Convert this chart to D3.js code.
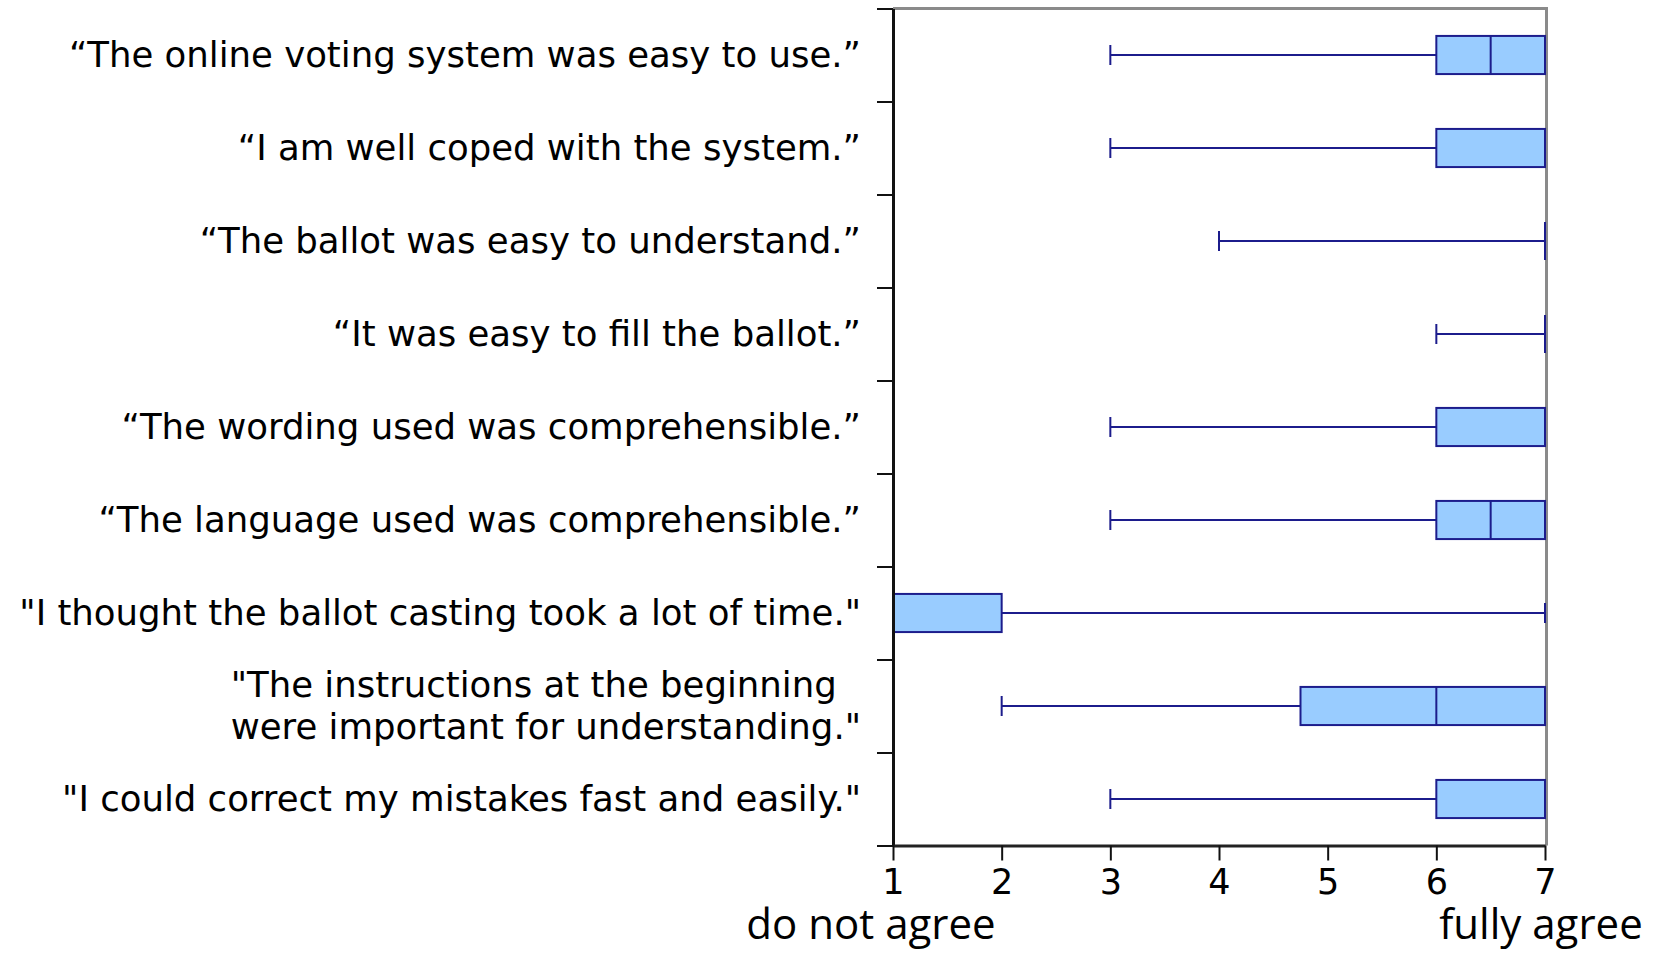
<!DOCTYPE html>
<html>
<head>
<meta charset="utf-8">
<script src="https://cdn.jsdelivr.net/npm/d3@7"></script>
<style>
  html, body { margin: 0; padding: 0; background: #fff; }
  svg { display: block; }
</style>
</head>
<body>
<svg id="chart" width="1657" height="953"></svg>
<script>
// ---- data ----
const categories = [
  "“The online voting system was easy to use.”",
  "“I am well coped with the system.”",
  "“The ballot was easy to understand.”",
  "“It was easy to fill the ballot.”",
  "“The wording used was comprehensible.”",
  "“The language used was comprehensible.”",
  "\"I thought the ballot casting took a lot of time.\"",
  "\"The instructions at the beginning\nwere important for understanding.\"",
  "\"I could correct my mistakes fast and easily.\""
];
const mins    = [3, 3, 4, 6, 3, 3, 1, 2,    3];
const q1s     = [6, 6, 7, 7, 6, 6, 1, 4.75, 6];
const medians = [6.5, 7, 7, 7, 7, 6.5, 1, 6, 7];
const q3s     = [7, 7, 7, 7, 7, 7, 2, 7,    7];
const maxs    = [7, 7, 7, 7, 7, 7, 7, 7,    7];
const xTicks  = [1, 2, 3, 4, 5, 6, 7];
const endLabels = ["do not agree", "fully agree"];

const rows = categories.map((c, i) => ({
  cat: c, min: mins[i], q1: q1s[i], med: medians[i], q3: q3s[i], max: maxs[i]
}));

// ---- layout ----
const svg = d3.select("#chart");
const pLeft = 893, pRight = 1545, pTop = 8.5, pBottom = 845.5;
const x = d3.scaleLinear().domain([1, 7]).range([pLeft, pRight]);
const y = d3.scaleBand().domain(categories).range([pTop, pBottom]).paddingInner(0).paddingOuter(0);
const yEdges = d3.scaleLinear().domain([0, categories.length]).range([pTop, pBottom]);

const boxFill = "#99ccff", boxStroke = "#1c1c8c";
const boxH = y.bandwidth() * 0.41, capH = 20;

// frame (gray top / right)
svg.append("line").attr("x1", pLeft).attr("x2", pRight + 1.5).attr("y1", pTop).attr("y2", pTop)
  .attr("stroke", "#8a8a8a").attr("stroke-width", 3);
svg.append("line").attr("x1", pRight + 1.5).attr("x2", pRight + 1.5).attr("y1", pTop - 1.5).attr("y2", pBottom)
  .attr("stroke", "#8a8a8a").attr("stroke-width", 3);

// boxplots
const g = svg.append("g");
rows.forEach(d => {
  const cy = y(d.cat) + y.bandwidth() / 2;
  const gg = g.append("g");
  gg.append("line").attr("x1", x(d.min)).attr("x2", x(d.q1)).attr("y1", cy).attr("y2", cy)
    .attr("stroke", boxStroke).attr("stroke-width", 2);
  gg.append("line").attr("x1", x(d.q3)).attr("x2", x(d.max)).attr("y1", cy).attr("y2", cy)
    .attr("stroke", boxStroke).attr("stroke-width", 2);
  [d.min, d.max].forEach(v => {
    gg.append("line").attr("x1", x(v)).attr("x2", x(v)).attr("y1", cy - capH / 2).attr("y2", cy + capH / 2)
      .attr("stroke", boxStroke).attr("stroke-width", 2);
  });
  gg.append("rect").attr("x", x(d.q1)).attr("y", cy - boxH / 2)
    .attr("width", x(d.q3) - x(d.q1)).attr("height", boxH)
    .attr("fill", boxFill).attr("stroke", boxStroke).attr("stroke-width", 2);
  if (x(d.q3) - x(d.q1) < 0.5) {
    gg.append("line").attr("x1", x(d.q1)).attr("x2", x(d.q1)).attr("y1", cy - boxH / 2).attr("y2", cy + boxH / 2)
      .attr("stroke", boxStroke).attr("stroke-width", 2);
  }
  gg.append("line").attr("x1", x(d.med)).attr("x2", x(d.med)).attr("y1", cy - boxH / 2).attr("y2", cy + boxH / 2)
    .attr("stroke", boxStroke).attr("stroke-width", 2);
});

// left axis (ticks at band boundaries)
const yAxis = svg.append("g").attr("transform", `translate(${pLeft},0)`)
  .call(d3.axisLeft(yEdges).ticks(categories.length).tickSize(16).tickSizeOuter(0).tickFormat(""));
yAxis.select(".domain").attr("stroke", "#111").attr("stroke-width", 3);
yAxis.selectAll(".tick line").attr("stroke", "#111").attr("stroke-width", 2);

// bottom axis
const xAxis = svg.append("g").attr("transform", `translate(0,${pBottom})`)
  .call(d3.axisBottom(x).tickValues(xTicks).tickSize(15).tickSizeOuter(0).tickPadding(9).tickFormat(d3.format("d")));
xAxis.select(".domain").attr("stroke", "#222").attr("stroke-width", 3);
xAxis.selectAll(".tick line").attr("stroke", "#111").attr("stroke-width", 2);
xAxis.selectAll(".tick text").attr("fill", "#000")
  .style("font-family", "'DejaVu Sans'").style("font-size", "35px");

// category labels
const labelRight = 861;
const lg = svg.append("g").style("font-family", "'DejaVu Sans'").style("font-size", "35.5px").attr("fill", "#000");
rows.forEach(d => {
  const cy = y(d.cat) + y.bandwidth() / 2;
  const lines = d.cat.split("\n");
  const lh = 42;
  const t = lg.append("text");
  lines.forEach((ln, k) => {
    t.append("tspan").attr("y", cy + (k - (lines.length - 1) / 2) * lh).attr("dy", "0.34em").text(ln);
  });
  const widths = [];
  t.selectAll("tspan").each(function () { widths.push(this.getComputedTextLength()); });
  const startX = labelRight - d3.max(widths);
  t.selectAll("tspan").attr("x", startX);
});

// end labels
const eg = svg.append("g").style("font-family", "'Open Sans'").style("font-size", "42px").attr("fill", "#000");
eg.append("text").attr("x", 871).attr("y", 939).attr("text-anchor", "middle").text(endLabels[0]);
eg.append("text").attr("x", 1541).attr("y", 939).attr("text-anchor", "middle").text(endLabels[1]);
</script>
</body>
</html>
